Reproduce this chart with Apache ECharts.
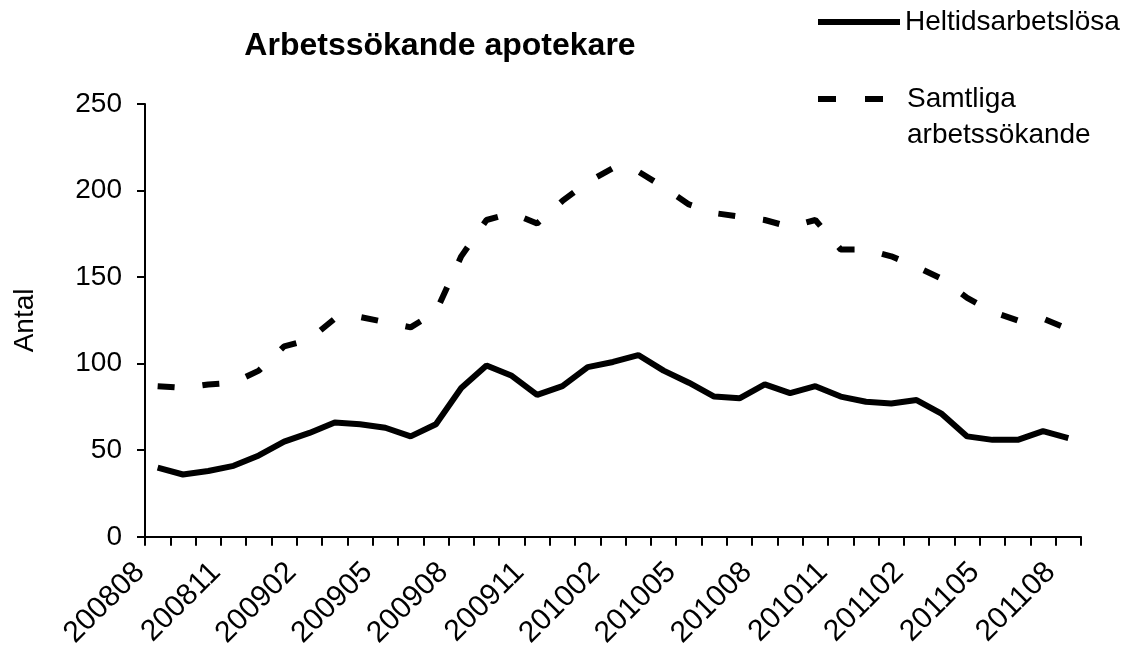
<!DOCTYPE html>
<html>
<head>
<meta charset="utf-8">
<script src="https://cdn.jsdelivr.net/npm/echarts@6/dist/echarts.min.js"></script>
<style>
  html, body { margin: 0; padding: 0; background: #fff; }
  #chart { width: 1132px; height: 651px; }
</style>
</head>
<body>
<div id="chart"></div>
<script>
  // monthly categories 200808 .. 201108
  var months = [
    '200808', '200809', '200810', '200811', '200812',
    '200901', '200902', '200903', '200904', '200905', '200906', '200907',
    '200908', '200909', '200910', '200911', '200912',
    '201001', '201002', '201003', '201004', '201005', '201006', '201007',
    '201008', '201009', '201010', '201011', '201012',
    '201101', '201102', '201103', '201104', '201105', '201106', '201107', '201108'
  ]
  var heltid = [40, 36, 38, 41, 47, 55, 60, 66, 65, 63, 58, 65, 86, 99, 93, 82, 87, 98, 101, 105,
    96, 89, 81, 80, 88, 83, 87, 81, 78, 77, 79, 71, 58, 56, 56, 61, 57]
  var samtliga = [87, 86, 88, 89, 96, 110, 114, 126, 127, 124, 121, 130, 162, 183, 187, 181, 194, 205, 213, 211,
    202, 192, 187, 185, 183, 179, 183, 166, 166, 162, 156, 149, 138, 130, 125, 126, 120]
  var yTicks = [0, 50, 100, 150, 200, 250]

  var font = 'Liberation Sans, Arial, sans-serif'
  var dash = [17, 28]
  var chart = echarts.init(document.getElementById('chart'), null, {renderer: 'canvas'})

  chart.setOption({
    animation: false,
    backgroundColor: '#fff',
    title: {
      text: 'Arbetssökande apotekare',
      left: 435,
      top: 25,
      textAlign: 'center',
      textStyle: {fontFamily: font, fontSize: 32, fontWeight: 'bold', color: '#000'}
    },
    legend: [
      {
        data: ['Heltidsarbetslösa'],
        left: 815,
        top: 8,
        padding: 0,
        itemWidth: 82,
        itemHeight: 30,
        itemStyle: {opacity: 0},
        lineStyle: {width: 6, color: '#000'},
        textStyle: {fontFamily: font, fontSize: 28, color: '#000'}
      },
      {
        data: ['Samtliga arbetssökande'],
        // blank first line keeps the icon level with "Samtliga"
        formatter: function (n) { return '\n' + n.replace(' ', '\n') },
        left: 815,
        top: 45,
        padding: 0,
        itemWidth: 84,
        itemHeight: 30,
        itemStyle: {opacity: 0},
        lineStyle: {width: 6, color: '#000', type: [18, 29], cap: 'butt'},
        textStyle: {fontFamily: font, fontSize: 28, lineHeight: 36, color: '#000'}
      }
    ],
    grid: {left: 145, right: 51, top: 104, bottom: 113, containLabel: false},
    xAxis: {
      type: 'category',
      data: months,
      boundaryGap: true,
      axisLine: {lineStyle: {color: '#000', width: 2}},
      axisTick: {show: true, length: 9, interval: 0, lineStyle: {color: '#000', width: 2}},
      axisLabel: {
        interval: 2,
        rotate: 45,
        margin: 13,
        formatter: function (v) { return '{m|' + v + '}' },
        rich: {
          m: {fontFamily: font, fontSize: 30, color: '#000', padding: [0, 25, 0, 0]}
        }
      },
      splitLine: {show: false}
    },
    yAxis: {
      type: 'value',
      min: yTicks[0],
      max: yTicks[yTicks.length - 1],
      interval: 50,
      name: 'Antal',
      nameLocation: 'middle',
      nameGap: 106,
      nameTextStyle: {fontFamily: font, fontSize: 28, color: '#000'},
      axisLine: {show: true, lineStyle: {color: '#000', width: 2}},
      axisTick: {show: true, length: 8, lineStyle: {color: '#000', width: 2}},
      axisLabel: {margin: 23, fontFamily: font, fontSize: 28, color: '#000'},
      splitLine: {show: false}
    },
    series: [
      {
        name: 'Heltidsarbetslösa',
        type: 'line',
        data: heltid,
        symbol: 'none',
        color: '#000',
        lineStyle: {color: '#000', width: 6}
      },
      {
        name: 'Samtliga arbetssökande',
        type: 'line',
        data: samtliga,
        symbol: 'none',
        color: '#000',
        lineStyle: {color: '#000', width: 6, type: dash, cap: 'butt'}
      }
    ]
  })
</script>
</body>
</html>
